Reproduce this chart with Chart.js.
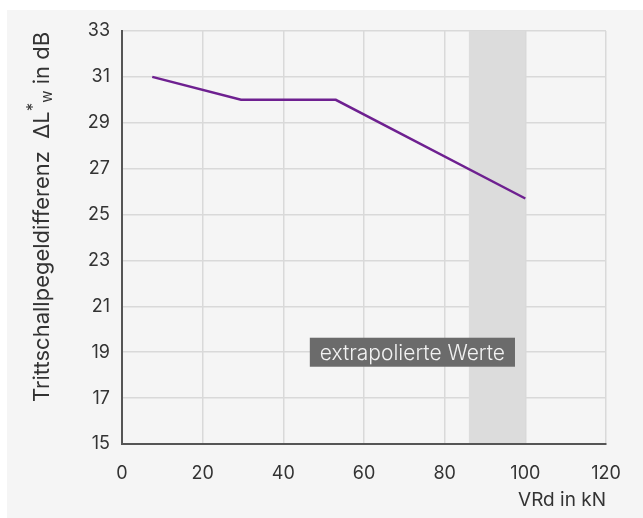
<!DOCTYPE html>
<html>
<head>
<meta charset="utf-8">
<script src="https://cdn.jsdelivr.net/npm/chart.js@4"></script>
<style>
  html, body { margin: 0; padding: 0; background: #ffffff; }
  #wrap { width: 643px; height: 518px; position: relative; }
</style>
</head>
<body>
<div id="wrap"><canvas id="chart" width="643" height="518"></canvas></div>
<script>
// data
const loadKN = [7.5, 29.5, 53, 100];
const deltaL = [31, 30, 30, 25.7];
const xTicks = [0, 20, 40, 60, 80, 100, 120];
const yTicks = [15, 17, 19, 21, 23, 25, 27, 29, 31, 33];
const extrapolatedRange = [86, 100];
const noteAnchor = [72, 19];
const noteText = 'extrapolierte Werte';

const FONT = 'Inter, "DejaVu Sans", sans-serif';

// grey card behind the whole chart
const cardBg = {
    id: 'cardBg',
    beforeDraw(chart) {
        const c = chart.ctx;
        c.save();
        c.fillStyle = '#f5f5f5';
        c.fillRect(7, 10, chart.width - 7, chart.height - 10);
        c.restore();
    }
};

// shaded band + note box
const extrapolated = {
    id: 'extrapolated',
    beforeDatasetsDraw(chart) {
        const { ctx, chartArea, scales } = chart;
        const x0 = scales.x.getPixelForValue(extrapolatedRange[0]);
        const x1 = scales.x.getPixelForValue(extrapolatedRange[1]);
        ctx.save();
        ctx.fillStyle = '#dcdcdc';
        ctx.fillRect(x0, chartArea.top, x1 - x0, chartArea.bottom - chartArea.top - 1);
        ctx.restore();
    },
    afterDatasetsDraw(chart) {
        const { ctx, scales } = chart;
        const cx = scales.x.getPixelForValue(noteAnchor[0]);
        const cy = scales.y.getPixelForValue(noteAnchor[1]);
        ctx.save();
        ctx.font = '300 21px ' + FONT;
        const w = ctx.measureText(noteText).width + 20;
        const h = 29;
        ctx.fillStyle = '#6b6b6b';
        ctx.fillRect(cx - w / 2, cy - h / 2, w, h);
        ctx.fillStyle = '#f2f2f2';
        ctx.textAlign = 'center';
        ctx.textBaseline = 'middle';
        ctx.fillText(noteText, cx, cy + 1);
        ctx.restore();
    }
};

// axis titles (y title needs super/subscript)
const axisTitles = {
    id: 'axisTitles',
    afterDraw(chart) {
        const { ctx, chartArea } = chart;
        ctx.save();
        ctx.fillStyle = '#333333';
        ctx.font = '19px ' + FONT;
        ctx.textAlign = 'right';
        ctx.textBaseline = 'middle';
        ctx.fillText('VRd in kN', chartArea.right, 500);

        const parts = [
            { t: 'Trittschallpegeldifferenz  \u0394L', size: 22, dy: 0 },
            { t: '*', size: 17, dy: -8 },
            { t: 'w', size: 15, dy: 5 },
            { t: ' in dB', size: 22, dy: 0 }
        ];
        let total = 0;
        parts.forEach(p => {
            ctx.font = p.size + 'px ' + FONT;
            p.w = ctx.measureText(p.t).width;
            total += p.w;
        });
        ctx.translate(42, 217);
        ctx.rotate(-Math.PI / 2);
        ctx.textAlign = 'left';
        let x = -total / 2;
        parts.forEach(p => {
            ctx.font = p.size + 'px ' + FONT;
            ctx.fillText(p.t, x, p.dy);
            x += p.w;
        });
        ctx.restore();
    }
};

new Chart(document.getElementById('chart'), {
    type: 'line',
    data: {
        datasets: [{
            data: loadKN.map((x, i) => ({ x: x, y: deltaL[i] })),
            borderColor: '#6e2090',
            borderWidth: 2.5,
            pointRadius: 0,
            tension: 0,
            fill: false
        }]
    },
    options: {
        responsive: false,
        animation: false,
        layout: { padding: { left: 7, top: 31, right: 37, bottom: 0 } },
        plugins: {
            legend: { display: false },
            tooltip: { enabled: false }
        },
        scales: {
            x: {
                type: 'linear',
                min: 0,
                max: 120,
                afterBuildTicks: s => { s.ticks = xTicks.map(v => ({ value: v })); },
                afterFit: s => { s.height = 74; },
                grid: { color: '#d9d9d9', lineWidth: 1.5, drawTicks: false },
                border: { color: '#555555', width: 2 },
                ticks: { color: '#333333', padding: 19, font: { family: FONT, size: 18 } }
            },
            y: {
                min: 15,
                max: 33,
                afterBuildTicks: s => { s.ticks = yTicks.map(v => ({ value: v })); },
                afterFit: s => { s.width = 115; },
                grid: { color: '#d9d9d9', lineWidth: 1.5, drawTicks: false },
                border: { color: '#555555', width: 2 },
                ticks: { color: '#333333', padding: 12, font: { family: FONT, size: 18 } }
            }
        }
    },
    plugins: [cardBg, extrapolated, axisTitles]
});
</script>
</body>
</html>
